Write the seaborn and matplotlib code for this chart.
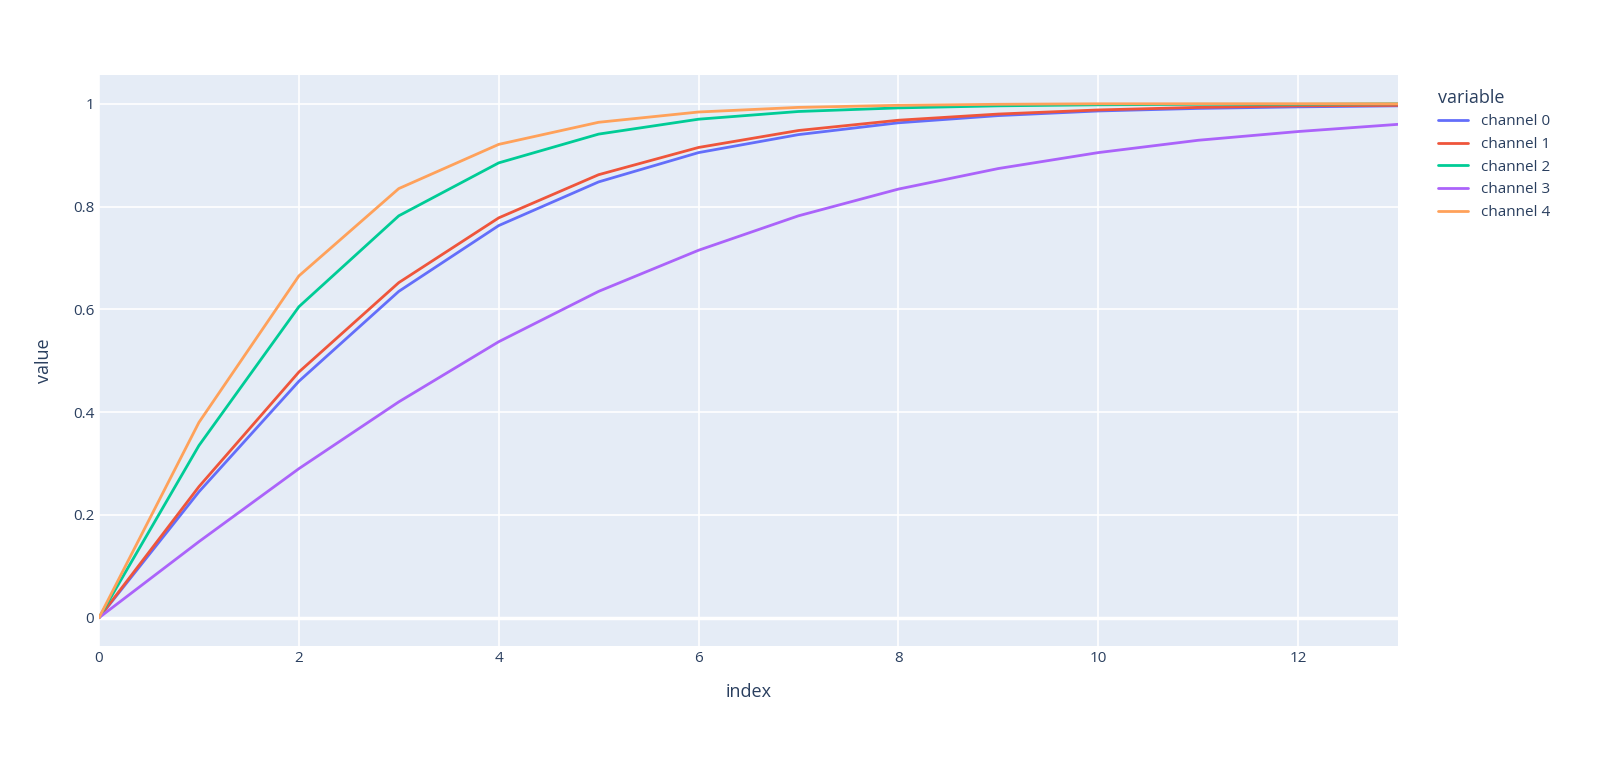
import pandas as pd
import matplotlib.pyplot as plt
import seaborn as sns

index = list(range(14))
channel_0 = [0, 0.245, 0.46, 0.635, 0.763, 0.848, 0.905, 0.94, 0.963, 0.977, 0.986, 0.991, 0.994, 0.996]
channel_1 = [0, 0.255, 0.478, 0.652, 0.778, 0.862, 0.915, 0.948, 0.968, 0.98, 0.988, 0.993, 0.996, 0.997]
channel_2 = [0, 0.335, 0.605, 0.782, 0.885, 0.941, 0.97, 0.985, 0.992, 0.996, 0.998, 0.999, 0.999, 1.0]
channel_3 = [0, 0.148, 0.29, 0.42, 0.537, 0.635, 0.715, 0.782, 0.834, 0.874, 0.905, 0.929, 0.946, 0.96]
channel_4 = [0, 0.38, 0.665, 0.835, 0.921, 0.964, 0.984, 0.993, 0.997, 0.999, 1.0, 1.0, 1.0, 1.0]
colors = ['#636EFA', '#EF553B', '#00CC96', '#AB63FA', '#FFA15A']

df = pd.DataFrame({'index': index, 'channel 0': channel_0, 'channel 1': channel_1,
                   'channel 2': channel_2, 'channel 3': channel_3, 'channel 4': channel_4})
long = df.melt(id_vars='index', var_name='variable', value_name='value')

sns.set_theme(style="darkgrid", rc={'axes.facecolor': '#E5ECF6', 'grid.color': 'white',
                                    'grid.linewidth': 1.2})
plt.rcParams['font.family'] = ['Open Sans', 'DejaVu Sans']

fig = plt.figure(figsize=(16, 7.61), dpi=100)
ax = fig.add_axes([99 / 1600, 1 - 646 / 761, (1398 - 99) / 1600, (646 - 75) / 761])
sns.lineplot(data=long, x='index', y='value', hue='variable', palette=colors, linewidth=2, ax=ax)

ax.set_xlim(0, 13)
ax.set_ylim(-0.055, 1.056)
ax.set_xticks(range(0, 13, 2))
ax.set_yticks([0, 0.2, 0.4, 0.6, 0.8, 1])
ax.set_yticklabels(['0', '0.2', '0.4', '0.6', '0.8', '1'])
ax.tick_params(colors='#2a3f5f', labelsize=11, length=0)
ax.set_xlabel('index', fontsize=13, color='#2a3f5f', labelpad=12)
ax.set_ylabel('value', fontsize=13, color='#2a3f5f', labelpad=14)
for s in ax.spines.values():
    s.set_visible(False)
ax.axhline(0, color='white', linewidth=2.5, zorder=1)

leg = ax.legend(title='variable', loc='upper left', bbox_to_anchor=(1.02, 1.0), frameon=False,
                fontsize=11, title_fontsize=13, handlelength=2, labelcolor='#2a3f5f')
leg._legend_box.align = 'left'
leg.get_title().set_color('#2a3f5f')

fig.savefig('out.png', dpi=100)
